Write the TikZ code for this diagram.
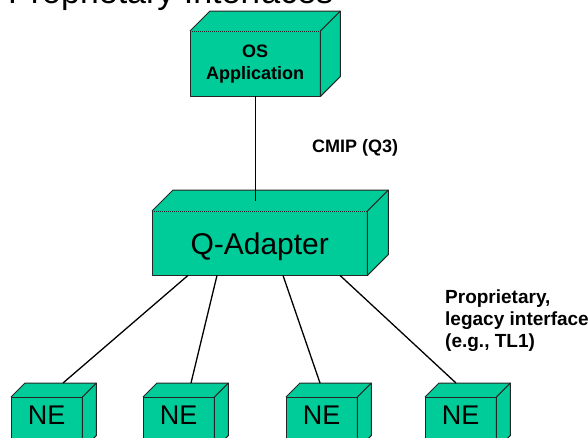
\documentclass[tikz,border=0pt]{standalone}
\usepackage{fontspec}
\setmainfont{Liberation Sans}
\usetikzlibrary{calc}
\definecolor{boxgreen}{RGB}{0,204,153}
\tikzset{
  box/.style={fill=boxgreen, inner sep=0pt, anchor=north west},
  boxline/.style={draw=black!85, line width=1pt, line join=round},
  link/.style={draw=black, line width=1.3pt},
  nebox/.style={box, minimum width=71pt, minimum height=52pt, text depth=16pt,
    font=\fontsize{27}{30}\selectfont},
}
\newcommand{\boxsides}[3][solid]{%
  \filldraw[boxline, fill=boxgreen] (#2.north west) -- ++(#3,-#3)
    -- ($(#2.north east)+(#3,-#3)$) -- ($(#2.south east)+(#3,-#3)$)
    -- (#2.south east) -- (#2.north east);
  \draw[boxline] (#2.north east) -- ++(#3,-#3);
  \draw[boxline] (#2.north east) -- (#2.south east) -- (#2.south west) -- (#2.north west);
  \draw[boxline, #1] (#2.north west) -- (#2.north east);
}
\begin{document}
\begin{tikzpicture}[x=1pt, y=-1pt]
  \useasboundingbox (0,0) rectangle (588,437);
  \node[anchor=base west, inner sep=0pt, font=\fontsize{34}{40}\selectfont] (title) at (8,3) {Proprietary Interfaces};

  \node[box, minimum width=130pt, minimum height=65pt, align=center,
        font=\bfseries\fontsize{18}{22}\selectfont] (os) at (190,31) {OS\\Application};
  \boxsides[densely dotted]{os}{20}
  \node[box, minimum width=215pt, minimum height=64pt, text depth=0pt,
        font=\fontsize{30}{34}\selectfont] (qa) at (152,211) {Q-Adapter};
  \boxsides[densely dotted]{qa}{21}
  \foreach \i/\x in {1/11, 2/143, 3/286, 4/425} {
    \node[nebox] (ne\i) at (\x,397) {NE};
    \boxsides{ne\i}{14}
  }

  \draw[link] (os.south) -- ($(os.south |- qa.north)+(0,-10.5)$);
  \foreach \i/\s/\e in {1/36/52, 2/65/48, 3/131/34, 4/188/31}
    \draw[link] ($(qa.south west)+(\s,0)$) -- ($(ne\i.north west)+(\e,-14)$);

  \node[anchor=base west, inner sep=0pt, font=\bfseries\fontsize{18}{22}\selectfont] (cmip) at (312,152) {CMIP (Q3)};
  \node[anchor=north west, inner sep=0pt, align=left,
        font=\bfseries\fontsize{19}{22}\selectfont] (legacy) at (445,290) {Proprietary,\\legacy interface\\(e.g., TL1)};
\end{tikzpicture}
\end{document}
